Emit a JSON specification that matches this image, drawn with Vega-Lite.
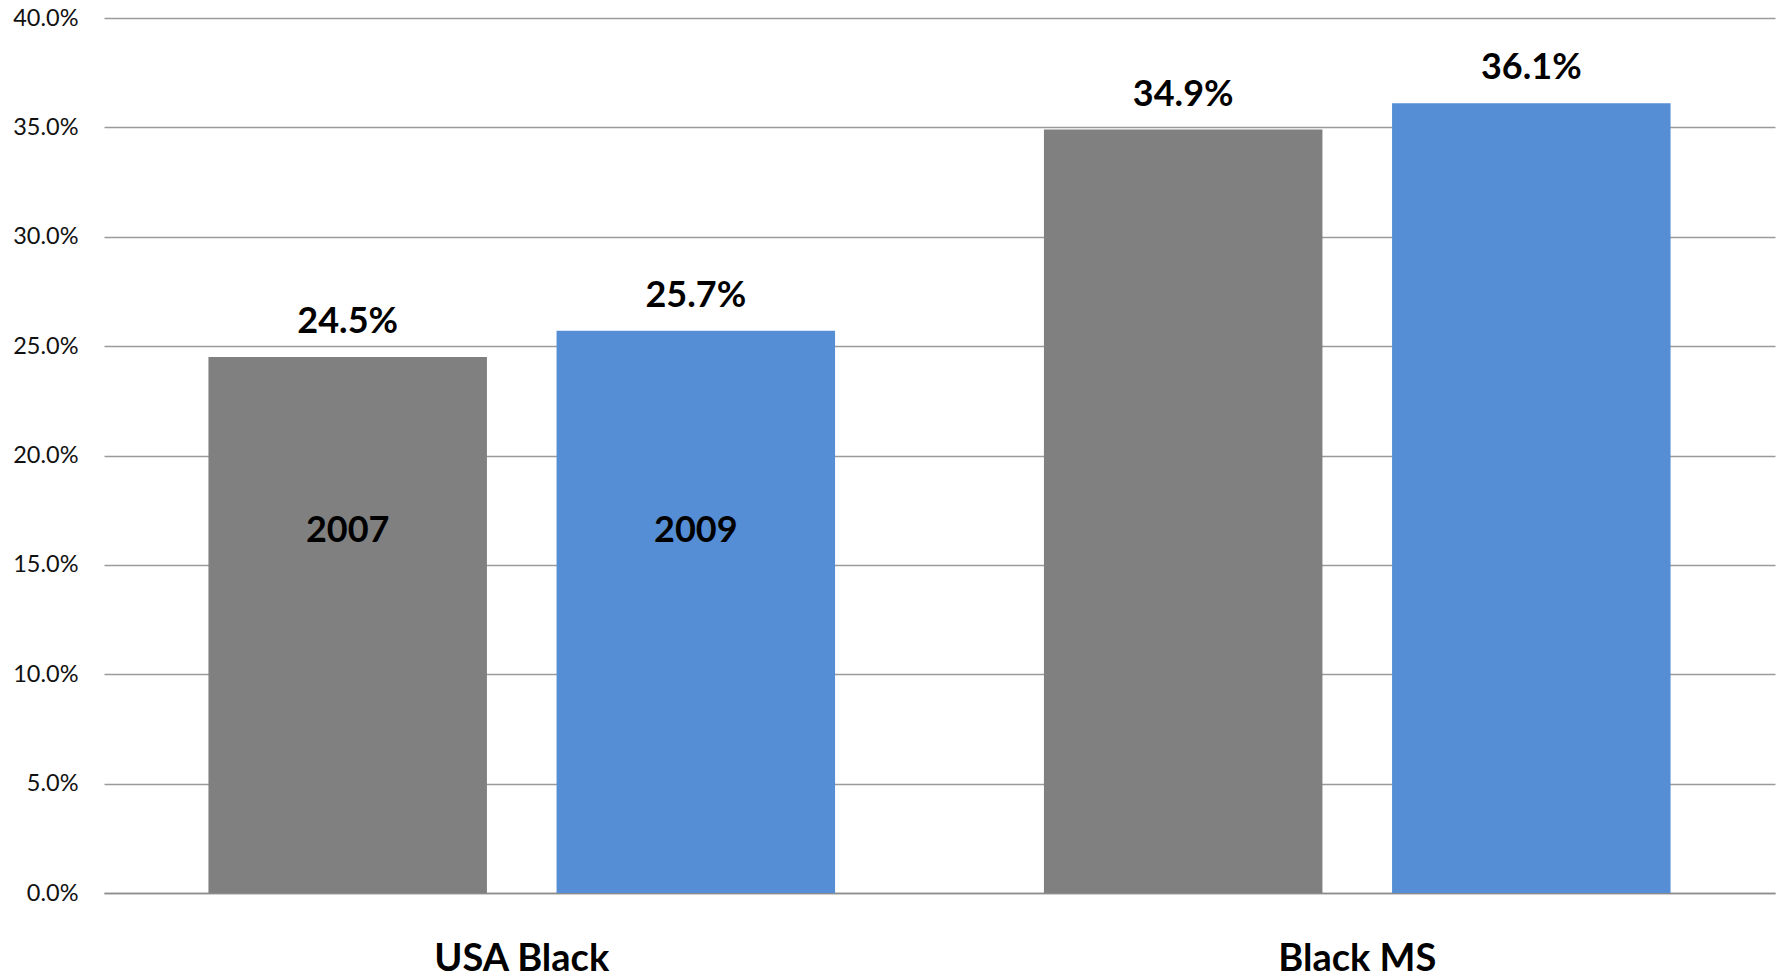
{
  "$schema": "https://vega.github.io/schema/vega-lite/v6.json",
  "width": 1671,
  "height": 875,
  "autosize": {"type": "none"},
  "padding": {"left": 104, "top": 18, "right": 6, "bottom": 85},
  "background": "white",
  "config": {"view": {"stroke": null}, "font": "Lato"},
  "data": {
    "values": [
      {"category": "USA Black", "year": "2007", "value": 0.245},
      {"category": "USA Black", "year": "2009", "value": 0.257},
      {"category": "Black MS", "year": "2007", "value": 0.349},
      {"category": "Black MS", "year": "2009", "value": 0.361}
    ]
  },
  "encoding": {
    "x": {
      "field": "category",
      "type": "nominal",
      "sort": ["USA Black", "Black MS"],
      "scale": {"paddingInner": 0.25, "paddingOuter": 0.125},
      "axis": {
        "title": null,
        "labelAngle": 0,
        "labelFont": "Lato",
        "labelFontSize": 38,
        "labelFontWeight": "bold",
        "labelColor": "#000000",
        "labelBaseline": "alphabetic",
        "labelPadding": 77,
        "ticks": false,
        "tickSize": 0,
        "domain": true,
        "domainColor": "#8c8c8c",
        "domainWidth": 1.5,
        "grid": false
      }
    },
    "xOffset": {
      "field": "year",
      "type": "nominal",
      "sort": ["2007", "2009"],
      "scale": {"paddingInner": 0.2, "paddingOuter": 0}
    }
  },
  "layer": [
    {
      "mark": {"type": "bar"},
      "encoding": {
        "y": {
          "field": "value",
          "type": "quantitative",
          "scale": {"domain": [0, 0.4], "nice": false},
          "axis": {
            "title": null,
            "values": [0, 0.05, 0.1, 0.15, 0.2, 0.25, 0.3, 0.35, 0.4],
            "format": ".1%",
            "labelFont": "Lato",
            "labelFontSize": 23.5,
            "labelColor": "#111111",
            "labelPadding": 26,
            "ticks": false,
            "tickSize": 0,
            "domain": false,
            "grid": true,
            "gridColor": "#9a9a9a",
            "gridWidth": 1.5
          }
        },
        "color": {
          "field": "year",
          "type": "nominal",
          "scale": {"domain": ["2007", "2009"], "range": ["#808080", "#558ED5"]},
          "legend": null
        }
      }
    },
    {
      "mark": {"type": "text", "dy": -24, "baseline": "alphabetic", "fontSize": 36, "fontWeight": "bold", "color": "#000000", "font": "Lato"},
      "encoding": {
        "y": {"field": "value", "type": "quantitative"},
        "text": {"field": "value", "type": "quantitative", "format": ".1%"}
      }
    },
    {
      "transform": [{"filter": "datum.category === 'USA Black'"}],
      "mark": {"type": "text", "baseline": "alphabetic", "fontSize": 36, "fontWeight": "bold", "color": "#000000", "font": "Lato"},
      "encoding": {
        "y": {"datum": 0.1605, "type": "quantitative"},
        "text": {"field": "year", "type": "nominal"}
      }
    }
  ]
}
